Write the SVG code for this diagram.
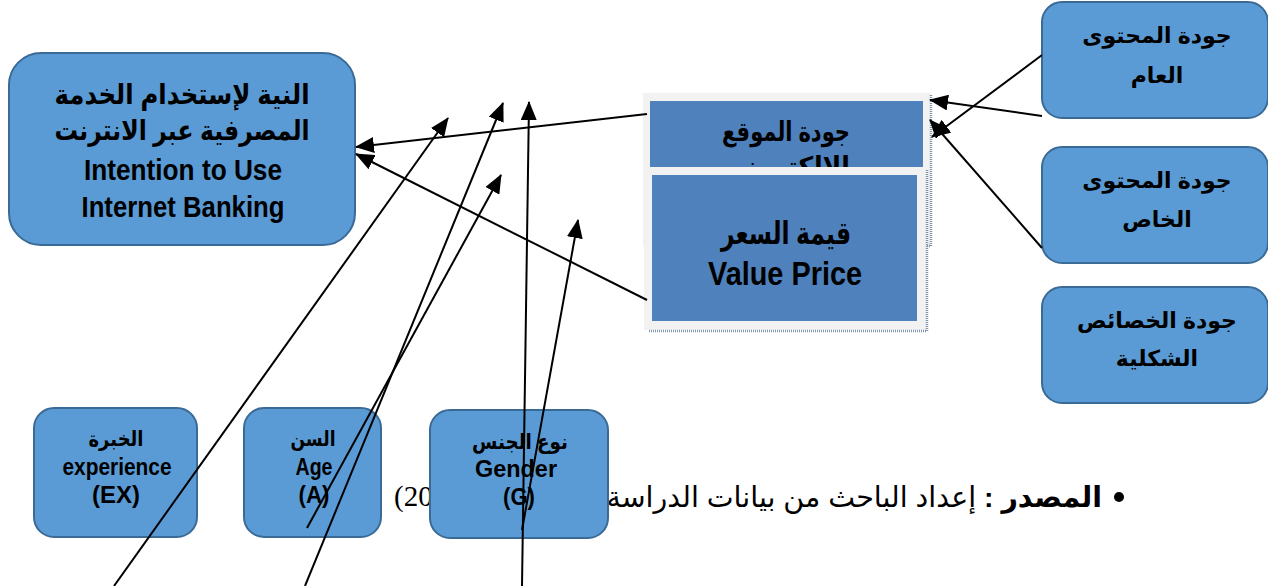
<svg xmlns="http://www.w3.org/2000/svg" width="1268" height="586" viewBox="0 0 1268 586">
  <defs>
    <style>
      .node { fill: #5B9BD5; stroke: #3A6A96; stroke-width: 2; }
      .inner { fill: #4F81BD; }
      .frame { fill: #F2F2F2; }
      .shadow { fill: none; stroke: #7F93AD; stroke-width: 2.5; stroke-dasharray: 1 1; }
      .ar { font-family: "Liberation Sans", "DejaVu Sans", sans-serif; font-weight: bold; fill: #000; direction: rtl; text-anchor: middle; }
      .en { font-family: "Liberation Sans Narrow", "Arial Narrow", "Liberation Sans", sans-serif; font-weight: bold; fill: #000; text-anchor: middle; }
      .link { stroke: #000; stroke-width: 2; fill: none; marker-end: url(#arrow); }
    </style>
    <marker id="arrow" markerUnits="userSpaceOnUse" markerWidth="20" markerHeight="16" refX="18" refY="8" orient="auto">
      <path d="M0,0 L19,8 L0,16 z" fill="#000"/>
    </marker>
    <clipPath id="clipSite">
      <rect x="650" y="101" width="273" height="66"/>
    </clipPath>
  </defs>

  <!-- source note (partly hidden behind the gender node) -->
  <g id="source">
    <circle cx="1119" cy="497" r="5" fill="#000"/>
    <text x="1102" y="507" font-family="Liberation Sans, DejaVu Sans, sans-serif" font-size="28.5" direction="rtl" text-anchor="start" fill="#000"><tspan font-weight="bold">المصدر :</tspan> إعداد الباحث من بيانات الدراسة</text>
    <text x="394" y="506" font-family="Liberation Serif, serif" font-size="29" fill="#000">(20</text>
  </g>

  <!-- dependent variable -->
  <g id="intention">
    <rect class="node" x="9" y="53" width="346" height="192" rx="32"/>
    <text class="ar" x="182" y="104" font-size="28" textLength="255" lengthAdjust="spacingAndGlyphs">النية لإستخدام  الخدمة</text>
    <text class="ar" x="182" y="140" font-size="28" textLength="255" lengthAdjust="spacingAndGlyphs">المصرفية عبر الانترنت</text>
    <text class="en" x="183" y="180" font-size="30" textLength="198" lengthAdjust="spacingAndGlyphs">Intention to Use</text>
    <text class="en" x="183" y="217" font-size="30" textLength="203" lengthAdjust="spacingAndGlyphs">Internet Banking</text>
  </g>

  <!-- website quality -->
  <g id="website">
    <rect class="frame" x="643" y="93" width="288" height="153"/>
    <polyline class="shadow" points="931,95 931,246 646,246"/>
    <rect class="inner" x="650" y="101" width="273" height="66"/>
    <g clip-path="url(#clipSite)">
      <text class="ar" x="786" y="141" font-size="27" textLength="128" lengthAdjust="spacingAndGlyphs">جودة الموقع</text>
      <text class="ar" x="786" y="176" font-size="27" textLength="128" lengthAdjust="spacingAndGlyphs">الإلكتروني</text>
    </g>
  </g>

  <!-- price value -->
  <g id="price">
    <rect class="frame" x="644" y="167" width="283" height="163"/>
    <polyline class="shadow" points="927,170 927,331 648,331"/>
    <rect class="inner" x="652" y="175" width="265" height="146"/>
    <text class="ar" x="786" y="244" font-size="31" textLength="130" lengthAdjust="spacingAndGlyphs">قيمة السعر</text>
    <text class="en" x="785" y="285" font-size="33" textLength="154" lengthAdjust="spacingAndGlyphs">Value Price</text>
  </g>

  <!-- website quality dimensions -->
  <g id="general-content">
    <rect class="node" x="1042" y="2" width="226" height="116" rx="20"/>
    <text class="ar" x="1157" y="43" font-size="22">جودة المحتوى</text>
    <text class="ar" x="1157" y="83" font-size="22">العام</text>
  </g>
  <g id="specific-content">
    <rect class="node" x="1042" y="147" width="226" height="116" rx="20"/>
    <text class="ar" x="1157" y="188" font-size="22">جودة المحتوى</text>
    <text class="ar" x="1157" y="227" font-size="22">الخاص</text>
  </g>
  <g id="visual-features">
    <rect class="node" x="1042" y="287" width="226" height="116" rx="20"/>
    <text class="ar" x="1157" y="328" font-size="22">جودة الخصائص</text>
    <text class="ar" x="1157" y="366" font-size="22">الشكلية</text>
  </g>

  <!-- moderators -->
  <g id="experience">
    <rect class="node" x="34" y="408" width="163" height="129" rx="20"/>
    <text class="ar" x="116" y="446" font-size="21" textLength="55" lengthAdjust="spacingAndGlyphs">الخبرة</text>
    <text class="en" x="117" y="475" font-size="23" textLength="109" lengthAdjust="spacingAndGlyphs">experience</text>
    <text class="en" x="116" y="503" font-size="23" textLength="48" lengthAdjust="spacingAndGlyphs">(EX)</text>
  </g>
  <g id="age">
    <rect class="node" x="244" y="408" width="137" height="129" rx="20"/>
    <text class="ar" x="313" y="446" font-size="21" textLength="45" lengthAdjust="spacingAndGlyphs">السن</text>
    <text class="en" x="314" y="475" font-size="23" textLength="37" lengthAdjust="spacingAndGlyphs">Age</text>
    <text class="en" x="314" y="503" font-size="23" textLength="31" lengthAdjust="spacingAndGlyphs">(A)</text>
  </g>
  <g id="gender">
    <rect class="node" x="430" y="410" width="178" height="128" rx="20"/>
    <text class="ar" x="520" y="449" font-size="21" textLength="96" lengthAdjust="spacingAndGlyphs">نوع  الجنس</text>
    <text class="en" x="516" y="477" font-size="23" textLength="82" lengthAdjust="spacingAndGlyphs">Gender</text>
    <text class="en" x="519" y="505" font-size="23" textLength="32" lengthAdjust="spacingAndGlyphs">(G)</text>
  </g>

  <!-- connectors -->
  <g id="connectors">
    <line class="link" x1="647" y1="114" x2="356" y2="147"/>
    <line class="link" x1="647" y1="300" x2="356" y2="154"/>
    <line class="link" x1="114" y1="586" x2="448" y2="118"/>
    <line class="link" x1="305" y1="586" x2="503" y2="103"/>
    <line class="link" x1="307" y1="528" x2="501" y2="175"/>
    <line class="link" x1="522" y1="586" x2="529" y2="102"/>
    <line class="link" x1="522" y1="530" x2="578" y2="220"/>
    <line class="link" x1="1042" y1="116" x2="930" y2="100"/>
    <line class="link" x1="1042" y1="55" x2="932" y2="137"/>
    <line class="link" x1="1042" y1="248" x2="930" y2="120"/>
  </g>
</svg>
